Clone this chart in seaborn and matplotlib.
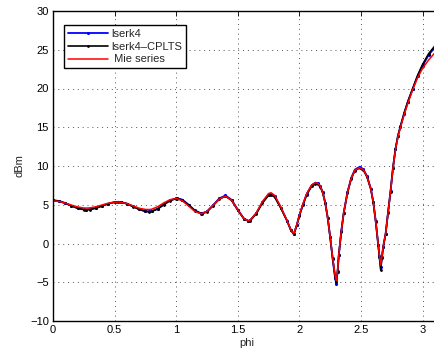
import matplotlib
matplotlib.use("Agg")
import matplotlib.pyplot as plt
import seaborn as sns
import pandas as pd

phi = [0.00, 0.05, 0.10, 0.15, 0.20, 0.25, 0.27, 0.30, 0.35, 0.40, 0.45, 0.50, 0.53, 0.55,
       0.60, 0.65, 0.70, 0.75, 0.78, 0.80, 0.85, 0.90, 0.95, 1.00, 1.01, 1.05, 1.10, 1.15,
       1.20, 1.21, 1.25, 1.30, 1.35, 1.40, 1.45, 1.50, 1.55, 1.585, 1.60, 1.65, 1.70, 1.75,
       1.77, 1.80, 1.85, 1.90, 1.93, 1.955, 1.98, 2.00, 2.03, 2.06, 2.10, 2.13, 2.15, 2.17,
       2.19, 2.21, 2.23, 2.25, 2.27, 2.29, 2.30, 2.31, 2.32, 2.34, 2.36, 2.39, 2.42, 2.45,
       2.49, 2.52, 2.55, 2.58, 2.60, 2.62, 2.64, 2.65, 2.66, 2.67, 2.68, 2.70, 2.72, 2.74,
       2.76, 2.78, 2.80, 2.82, 2.85, 2.88, 2.92, 2.96, 3.00, 3.05, 3.10, 3.14]

cplts = [5.55, 5.45, 5.19, 4.85, 4.54, 4.37, 4.35, 4.38, 4.57, 4.85, 5.13, 5.32, 5.35, 5.33,
         5.12, 4.76, 4.39, 4.14, 4.10, 4.13, 4.46, 5.01, 5.53, 5.79, 5.80, 5.61, 4.98, 4.25,
         3.86, 3.85, 4.09, 4.89, 5.73, 6.10, 5.56, 4.30, 3.17, 2.90, 2.95, 3.83, 5.23, 6.20,
         6.28, 5.98, 4.55, 2.90, 1.75, 1.20, 2.40, 3.60, 5.00, 6.30, 7.40, 7.70, 7.62, 7.30,
         6.50, 5.20, 3.30, 0.80, -1.90, -4.30, -4.95, -3.60, -1.50, 1.50, 3.90, 6.50, 8.30, 9.40,
         9.75, 9.45, 8.55, 7.00, 5.30, 2.80, -0.20, -1.80, -3.40, -1.90, -0.50, 1.20, 4.00, 6.70,
         9.80, 12.20, 13.90, 15.10, 16.80, 18.30, 20.00, 21.70, 23.10, 24.50, 25.50, 26.10]

lserk4 = [5.60, 5.48, 5.22, 4.88, 4.57, 4.40, 4.38, 4.41, 4.60, 4.88, 5.16, 5.35, 5.38, 5.36,
          5.15, 4.79, 4.42, 4.17, 4.13, 4.16, 4.49, 5.05, 5.57, 5.83, 5.84, 5.65, 5.02, 4.29,
          3.90, 3.89, 4.13, 4.95, 5.82, 6.20, 5.64, 4.36, 3.22, 2.93, 2.99, 3.90, 5.32, 6.32,
          6.40, 6.08, 4.62, 2.95, 1.78, 1.20, 2.42, 3.65, 5.08, 6.40, 7.52, 7.85, 7.76, 7.42,
          6.60, 5.28, 3.34, 0.80, -1.95, -4.45, -5.25, -3.70, -1.50, 1.55, 3.98, 6.60, 8.42, 9.53,
          9.90, 9.58, 8.66, 7.08, 5.36, 2.85, -0.15, -1.65, -3.00, -1.80, -0.45, 1.25, 4.05, 6.75,
          9.80, 12.15, 13.85, 15.05, 16.75, 18.25, 19.95, 21.60, 22.95, 24.35, 25.30, 25.80]

mie = [5.50, 5.42, 5.20, 4.95, 4.72, 4.58, 4.57, 4.60, 4.75, 4.98, 5.20, 5.33, 5.35, 5.32,
       5.15, 4.85, 4.55, 4.40, 4.38, 4.42, 4.75, 5.25, 5.65, 5.80, 5.78, 5.50, 4.85, 4.15,
       3.85, 3.86, 4.15, 4.95, 5.75, 6.12, 5.60, 4.35, 3.20, 2.92, 3.00, 3.95, 5.40, 6.45,
       6.55, 6.20, 4.70, 2.95, 1.80, 1.25, 2.45, 3.70, 5.15, 6.45, 7.55, 7.85, 7.75, 7.40,
       6.55, 5.25, 3.30, 0.85, -1.80, -4.10, -4.80, -3.50, -1.45, 1.55, 3.95, 6.55, 8.35, 9.45,
       9.80, 9.50, 8.60, 7.05, 5.35, 2.85, -0.10, -1.60, -2.80, -1.70, -0.45, 1.20, 4.00, 6.70,
       9.75, 12.10, 13.80, 14.95, 16.60, 18.05, 19.85, 21.40, 22.60, 23.70, 24.60, 25.10]

labels = ["lserk4", "lserk4\u2013CPLTS", " Mie series"]

sns.set_style("white")
plt.rcParams["font.family"] = ["Liberation Sans", "DejaVu Sans"]

fig = plt.figure(figsize=(4.35, 3.55), dpi=100)
ax = fig.add_axes([53 / 435, 1 - 321 / 355, 387 / 435, 310 / 355])

df = pd.DataFrame({"phi": phi, "a": lserk4, "b": cplts, "c": mie})
sns.lineplot(data=df, x="phi", y="a", ax=ax, color="#0000ff", lw=1.3, marker=".",
             markersize=4.5, markeredgewidth=0, sort=False, estimator=None, label=labels[0])
sns.lineplot(data=df, x="phi", y="b", ax=ax, color="black", lw=1.2, marker=".",
             markersize=4, markeredgewidth=0, sort=False, estimator=None, label=labels[1])
sns.lineplot(data=df, x="phi", y="c", ax=ax, color="#ff0000", lw=1.1,
             sort=False, estimator=None, label=labels[2])

ax.set_xlim(0, 3.1416)
ax.set_ylim(-10, 30)
ax.set_xticks([0, 0.5, 1, 1.5, 2, 2.5, 3])
ax.set_xticklabels(["0", "0.5", "1", "1.5", "2", "2.5", "3"])
ax.set_yticks(list(range(-10, 31, 5)))
ax.grid(True, linestyle=(0, (1, 4)), color="#555555", lw=0.7)
ax.tick_params(direction="in", length=3.5, width=0.6, labelsize=8, top=True, right=True,
               pad=3, colors="black")
for s in ax.spines.values():
    s.set_color("black")
    s.set_linewidth(1.0)
ax.set_xlabel("phi", fontsize=8, labelpad=2)
ax.set_ylabel("dBm", fontsize=8, labelpad=4)

leg = ax.legend(loc="upper left", bbox_to_anchor=(0.028, 0.955), borderaxespad=0,
                fontsize=8, handlelength=3.6, labelspacing=0.25, handletextpad=0.3,
                borderpad=0.35, fancybox=False, framealpha=1, edgecolor="black")
leg.get_frame().set_linewidth(1.0)

fig.savefig("out.png", dpi=100)
